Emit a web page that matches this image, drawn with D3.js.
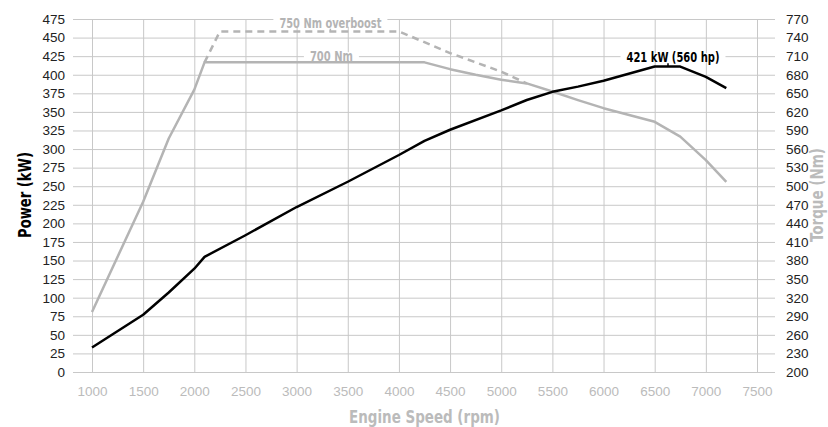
<!DOCTYPE html>
<html>
<head>
<meta charset="utf-8">
<script src="https://cdn.jsdelivr.net/npm/d3@7"></script>
<style>
  body { margin: 0; background: #fff; }
  svg text { font-family: "Liberation Sans", Arial, sans-serif; }
  .bold { font-family: "DejaVu Sans Condensed", "Liberation Sans", sans-serif !important; font-weight: bold; }
</style>
</head>
<body>
<div id="main"></div>
<script>
const width = 828;
const height = 427;

// engine speed (rpm) and power (kW)
const powerRpm = [1000, 1500, 1750, 2000, 2100, 2500, 3000, 3500, 4000, 4250, 4500, 5000, 5250, 5500, 5750, 6000, 6500, 6750, 7000, 7200];
const powerKw  = [33, 77, 107, 139, 155, 184, 222, 256, 292, 311, 326, 352, 366, 377, 384, 392, 411, 411, 397, 382];

// torque (Nm), normal
const torqueRpm = [1000, 1500, 1750, 2000, 2100, 4250, 4500, 4750, 5000, 5250, 5500, 5750, 6000, 6500, 6750, 7000, 7200];
const torqueNm  = [297, 475, 577, 656, 700, 700, 689, 680, 672, 666, 653, 639, 626, 604, 580, 542, 507];

// torque (Nm), overboost
const boostRpm = [2100, 2250, 4000, 4500, 5000, 5250];
const boostNm  = [700, 750, 750, 715, 685, 666];

const rpmTicks = [1000, 1500, 2000, 2500, 3000, 3500, 4000, 4500, 5000, 5500, 6000, 6500, 7000, 7500];
const kwTicks = d3.range(0, 476, 25);
const nmTicks = d3.range(200, 771, 30);

const gridLeft = 73, gridRight = 775;

const x = d3.scaleLinear().domain([1000, 7500]).range([92, 757]);
const yP = d3.scaleLinear().domain([0, 475]).range([372, 19]);
const yT = d3.scaleLinear().domain([200, 770]).range([372, 19]);

const svg = d3.select("#main").append("svg")
  .attr("width", width)
  .attr("height", height);

// left axis with horizontal grid
const leftAxis = svg.append("g")
  .attr("transform", `translate(${gridLeft},0)`)
  .call(d3.axisLeft(yP).tickValues(kwTicks).tickSize(-(gridRight - gridLeft)).tickPadding(8));
leftAxis.select(".domain").remove();
leftAxis.selectAll("line").attr("stroke", "#c8c8c8");
leftAxis.selectAll("text").attr("fill", "#222").style("font-size", "13.5px");

// bottom axis with vertical grid
const bottomAxis = svg.append("g")
  .attr("transform", "translate(0,372)")
  .call(d3.axisBottom(x).tickValues(rpmTicks).tickSize(-(372 - 19)).tickPadding(14).tickFormat(d3.format("d")));
bottomAxis.select(".domain").remove();
bottomAxis.selectAll("line").attr("stroke", "#c8c8c8");
bottomAxis.selectAll("text").attr("fill", "#bbb").style("font-size", "13.5px");

// right axis (torque)
const rightAxis = svg.append("g")
  .attr("transform", `translate(${gridRight},0)`)
  .call(d3.axisRight(yT).tickValues(nmTicks).tickSize(0).tickPadding(11));
rightAxis.select(".domain").remove();
rightAxis.selectAll("text").attr("fill", "#222").style("font-size", "13.5px");

// axis titles (condensed to match the narrow bold face)
function title(tx, ty, rot, len, color, text) {
  svg.append("text").attr("class", "bold")
    .attr("transform", `translate(${tx},${ty}) rotate(${rot})`)
    .attr("text-anchor", "middle").attr("dy", "0.35em")
    .attr("textLength", len).attr("lengthAdjust", "spacingAndGlyphs")
    .style("font-size", "18px").attr("fill", color)
    .text(text);
}
title(25, 195, -90, 86, "#000", "Power (kW)");
title(817, 195, -90, 94, "#bbb", "Torque (Nm)");
title((x(1000) + x(7500)) / 2, 417, 0, 151, "#bbb", "Engine Speed (rpm)");

// curves
const powerLine = d3.line().x((d, i) => x(powerRpm[i])).y(d => yP(d));
const torqueLine = d3.line().x((d, i) => x(torqueRpm[i])).y(d => yT(d));
const boostLine = d3.line().x((d, i) => x(boostRpm[i])).y(d => yT(d));

svg.append("path").datum(boostNm)
  .attr("d", boostLine)
  .attr("fill", "none").attr("stroke", "#b4b4b4")
  .attr("stroke-width", 2.5).attr("stroke-dasharray", "7,5");

svg.append("path").datum(torqueNm)
  .attr("d", torqueLine)
  .attr("fill", "none").attr("stroke", "#b4b4b4")
  .attr("stroke-width", 2.5).attr("stroke-linejoin", "round");

svg.append("path").datum(powerKw)
  .attr("d", powerLine)
  .attr("fill", "none").attr("stroke", "#000")
  .attr("stroke-width", 2.5).attr("stroke-linejoin", "round");

// callouts
function callout(px, lineY, labelY, dx, len, text, color) {
  const g = svg.append("g");
  g.append("line")
    .attr("x1", px).attr("x2", px)
    .attr("y1", labelY + 6).attr("y2", lineY)
    .attr("stroke", color).attr("stroke-width", 1.5);
  const bg = g.append("rect").attr("fill", "#fff");
  const t = g.append("text").attr("class", "bold")
    .attr("x", px + dx).attr("y", labelY)
    .attr("text-anchor", "middle").attr("dy", "0.35em")
    .attr("textLength", len).attr("lengthAdjust", "spacingAndGlyphs")
    .style("font-size", "14px").attr("fill", color)
    .text(text);
  const b = t.node().getBBox();
  bg.attr("x", b.x - 6).attr("y", labelY - 4).attr("width", b.width + 12).attr("height", 8);
}

callout(x(3330), yT(750), yT(764), 0, 102, "750 Nm overboost", "#b4b4b4");
callout(x(3340), yT(700), yT(710), 0, 43, "700 Nm", "#b4b4b4");
callout(x(6630), yP(411), yP(425) + 1, 5, 93, "421 kW (560 hp)", "#000");
</script>
</body>
</html>
